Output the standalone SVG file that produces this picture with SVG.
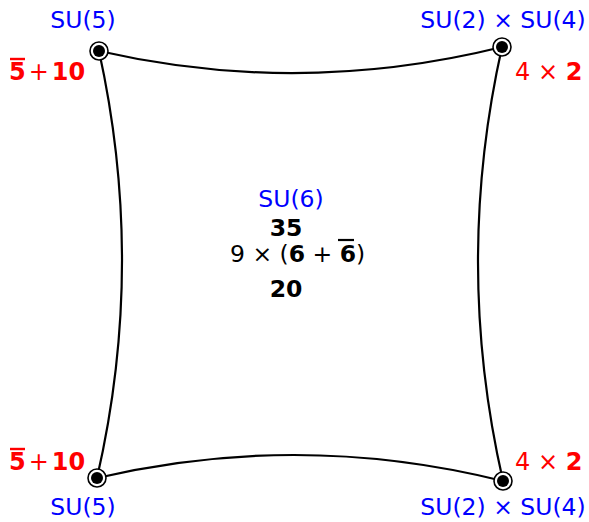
<svg xmlns="http://www.w3.org/2000/svg" width="589" height="522" viewBox="0 0 589 522">
<style>
.su{font-family:"DejaVu Sans",sans-serif;font-size:23.5px;fill:#0000ff}
.rep{font-family:"DejaVu Sans",sans-serif;font-size:24px;fill:#ff0000}
.b{font-weight:bold}
.ctr{font-family:"DejaVu Sans",sans-serif;font-size:23.5px;fill:#000}
.edge{fill:none;stroke:#000;stroke-width:2.2}
.ring{fill:#fff;stroke:#000;stroke-width:1.6}
.dot{fill:#000}
.ob{stroke:#ff0000;stroke-width:2.4}
.obk{stroke:#000;stroke-width:2.2}
</style>
<rect width="589" height="522" fill="#fff"/>
<g id="connectors">
<path class="edge" d="M99,51 Q300,97 502,47"/>
<path class="edge" d="M99,51 Q146,265 97,478"/>
<path class="edge" d="M502,47 Q453.5,264 503,481"/>
<path class="edge" d="M97,478 Q300,430.5 503,481"/>
</g>
<g id="n-tl">
<circle class="ring" cx="99" cy="51" r="9"/><circle class="dot" cx="99" cy="51" r="6"/>
<text class="su" x="83" y="28" text-anchor="middle">SU(5)</text>
<text class="rep" x="9" y="80"><tspan class="b">5</tspan><tspan dx="3">+</tspan><tspan class="b" dx="3">10</tspan></text>
<line class="ob" x1="10" y1="59" x2="25" y2="59"/>
</g>
<g id="n-tr">
<circle class="ring" cx="502" cy="47" r="9"/><circle class="dot" cx="502" cy="47" r="6"/>
<text class="su" x="503" y="28" text-anchor="middle">SU(2) × SU(4)</text>
<text class="rep" x="515" y="80">4 × <tspan class="b">2</tspan></text>
</g>
<g id="n-bl">
<circle class="ring" cx="97" cy="478" r="9"/><circle class="dot" cx="97" cy="478" r="6"/>
<text class="su" x="83" y="515" text-anchor="middle">SU(5)</text>
<text class="rep" x="9" y="470"><tspan class="b">5</tspan><tspan dx="3">+</tspan><tspan class="b" dx="3">10</tspan></text>
<line class="ob" x1="10" y1="449" x2="25" y2="449"/>
</g>
<g id="n-br">
<circle class="ring" cx="503" cy="481" r="9"/><circle class="dot" cx="503" cy="481" r="6"/>
<text class="su" x="503" y="515" text-anchor="middle">SU(2) × SU(4)</text>
<text class="rep" x="515" y="470">4 × <tspan class="b">2</tspan></text>
</g>
<g id="n-center">
<text class="su" x="291" y="207" text-anchor="middle">SU(6)</text>
<text class="ctr b" x="286" y="236" text-anchor="middle">35</text>
<text class="ctr" x="230" y="262">9 × (<tspan class="b">6</tspan> + <tspan class="b">6</tspan>)</text>
<line class="obk" x1="338" y1="240" x2="354" y2="240"/>
<text class="ctr b" x="286" y="297" text-anchor="middle">20</text>
</g>
</svg>
